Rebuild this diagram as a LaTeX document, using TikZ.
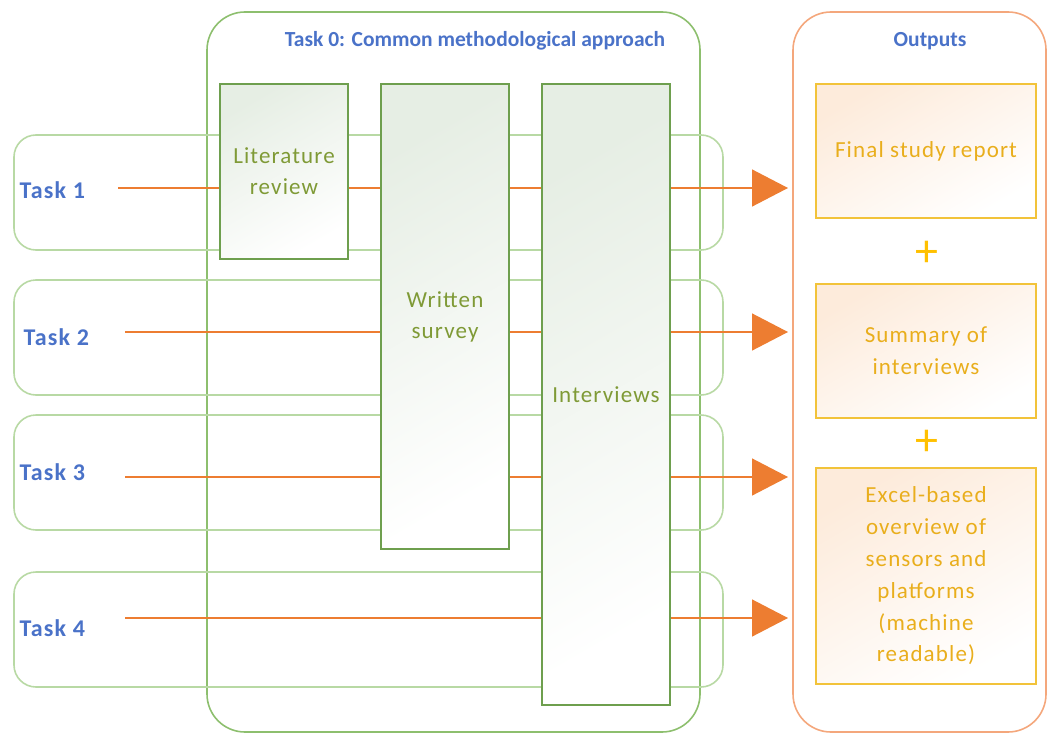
\documentclass[tikz,border=0pt]{standalone}
\usepackage{fontspec}
\setmainfont{Carlito}
\newfontfamily\wideface[LetterSpace=5]{Carlito}
\usetikzlibrary{arrows.meta}

\definecolor{taskblue}{HTML}{4A72C8}
\definecolor{framegreen}{HTML}{8DBF6E}
\definecolor{rowgreen}{HTML}{B8D9A4}
\definecolor{boxgreen}{HTML}{6E9F4E}
\definecolor{boxtext}{HTML}{7F9A36}
\definecolor{boxtop}{HTML}{E6EEE4}
\definecolor{lineorange}{HTML}{ED7D31}
\definecolor{outframe}{HTML}{F4A77C}
\definecolor{goldline}{HTML}{F2C33A}
\definecolor{goldtext}{HTML}{E9AE1C}
\definecolor{plusgold}{HTML}{FFC000}
\definecolor{outtop}{HTML}{FDEBDB}

\begin{document}
\begin{tikzpicture}[x=1pt,y=-1pt]
  % Parameters
  \def\rowheight{115}
  \def\boxwidth{128}
  \def\outwidth{220}

  \tikzset{
    frame/.style={draw=framegreen, line width=1.6pt, rounded corners=38pt},
    taskrow/.style={draw=rowgreen, line width=1.6pt, rounded corners=22pt},
    tasklabel/.style={text=taskblue, font=\wideface\bfseries\fontsize{24}{28}\selectfont, anchor=west},
    heading/.style={text=taskblue, font=\bfseries\fontsize{21.5}{25}\selectfont},
    method/.style={draw=boxgreen, line width=1.6pt, top color=boxtop, bottom color=white,
      shading angle=30, text=boxtext, font=\wideface\fontsize{23}{31}\selectfont,
      align=center, minimum width=\boxwidth},
    outbox/.style={draw=goldline, line width=1.6pt, top color=outtop, bottom color=white,
      shading angle=30, text=goldtext, font=\wideface\fontsize{23}{31.8}\selectfont,
      align=center, minimum width=\outwidth},
    plus/.style={text=plusgold, font=\fontsize{46}{46}\selectfont},
    flow/.style={draw=lineorange, line width=1.4pt,
      -{Triangle[width=37pt,length=36pt]}}
  }

  \useasboundingbox (0,0) rectangle (1048,733);

  % Task 0 frame and outputs frame
  \draw[frame] (207,12) rectangle (700,732);
  \node[heading] (t0) at (475,41) {Task 0: Common methodological approach};
  \draw[frame, draw=outframe] (793,12) rectangle (1046,732);
  \node[heading] (outlbl) at (930,41) {Outputs};

  % Task rows
  \foreach \i/\top/\lx/\ly/\ay/\sx in {1/135/16/190/188/118, 2/280/20/337/332/125,
                                       3/415/16/472/477/125, 4/572/16/628/618/125} {
    \draw[taskrow] (14,\top) rectangle (723,\top+\rowheight);
    \node[tasklabel] (task\i) at (\lx,\ly) {Task \i};
    \coordinate (start\i) at (\sx,\ay);
    \coordinate (end\i) at (788,\ay);
    \draw[flow] (start\i) -- (end\i);
  }

  % Methods (drawn over the lines)
  \node[method, minimum height=175] (lit) at (284,171.5) {Literature\\review};
  \node[method, minimum height=465] (survey) at (445,316.5) {Written\\survey};
  \node[method, minimum height=621] (interv) at (606,394.5) {Interviews};

  % Outputs
  \node[outbox, minimum height=134] (out1) at (926,151) {Final study report};
  \node[plus] (plus1) at (927,254) {+};
  \node[outbox, minimum height=134] (out2) at (926,351) {Summary of\\interviews};
  \node[plus] (plus2) at (927,443) {+};
  \node[outbox, minimum height=216] (out3) at (926,576)
    {Excel-based\\overview of\\sensors and\\platforms\\(machine\\readable)};

\end{tikzpicture}
\end{document}
